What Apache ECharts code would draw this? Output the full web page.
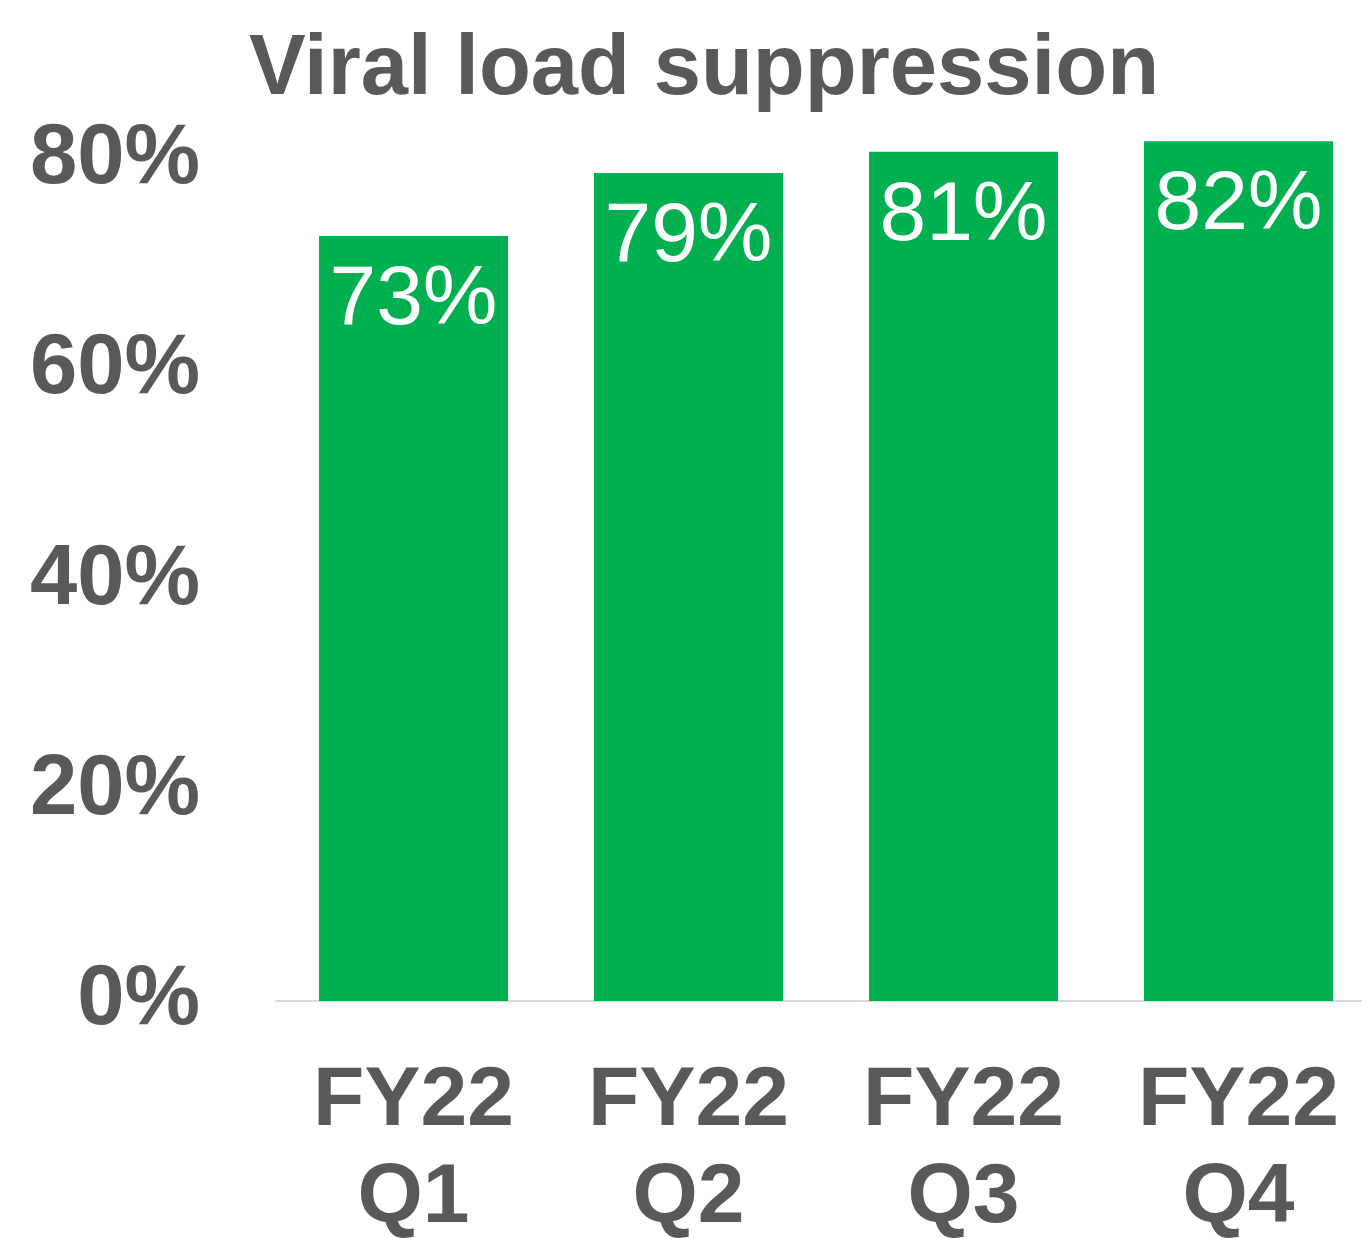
<!DOCTYPE html>
<html>
<head>
<meta charset="utf-8">
<style>
  html, body { margin: 0; padding: 0; background: #ffffff; }
  #chart { width: 1362px; height: 1238px; }
</style>
<script src="https://cdn.jsdelivr.net/npm/echarts@6/dist/echarts.min.js"></script>
</head>
<body>
<div id="chart"></div>
<script>
const titleText = 'Viral load suppression';
const categories = ['FY22\nQ1', 'FY22\nQ2', 'FY22\nQ3', 'FY22\nQ4'];
const suppression = [0.727, 0.787, 0.807, 0.817];
const yTicks = [0, 0.2, 0.4, 0.6, 0.8];

const FONT = '"Liberation Sans", Arial, Helvetica, sans-serif';
const GRAY = '#595959';
const GREEN = '#00B050';

const chart = echarts.init(document.getElementById('chart'), null, { renderer: 'canvas' });
chart.setOption({
  animation: false,
  backgroundColor: '#ffffff',
  title: {
    text: titleText,
    left: 699,
    textAlign: 'center',
    top: 23,
    textStyle: { fontFamily: FONT, fontSize: 85, fontWeight: 'bold', color: GRAY, lineHeight: 85 }
  },
  grid: { left: 276, width: 1100, top: 54, bottom: 237, containLabel: false, outerBoundsMode: 'none' },
  xAxis: {
    type: 'category',
    data: categories,
    axisLine: { show: true, lineStyle: { color: '#d9d9d9', width: 2 } },
    axisTick: { show: false },
    axisLabel: {
      fontFamily: FONT, fontSize: 84, fontWeight: 'bold', color: GRAY,
      lineHeight: 97, margin: 52, interval: 0
    }
  },
  yAxis: {
    type: 'value',
    min: 0,
    max: 0.9,
    interval: 0.2,
    axisLine: { show: false },
    axisTick: { show: false },
    splitLine: { show: false },
    axisLabel: {
      fontFamily: FONT, fontSize: 85, fontWeight: 'bold', color: GRAY, margin: 76,
      formatter: function (v) {
        const hit = yTicks.find(t => Math.abs(t - v) < 1e-9);
        return hit === undefined ? '' : Math.round(hit * 100) + '%';
      }
    }
  },
  series: [{
    type: 'bar',
    data: suppression,
    barWidth: 189,
    itemStyle: { color: GREEN },
    label: {
      show: true,
      position: 'insideTop',
      distance: 23,
      fontFamily: FONT, fontSize: 84, color: '#ffffff',
      formatter: p => Math.round(p.value * 100) + '%'
    }
  }]
});
</script>
</body>
</html>
